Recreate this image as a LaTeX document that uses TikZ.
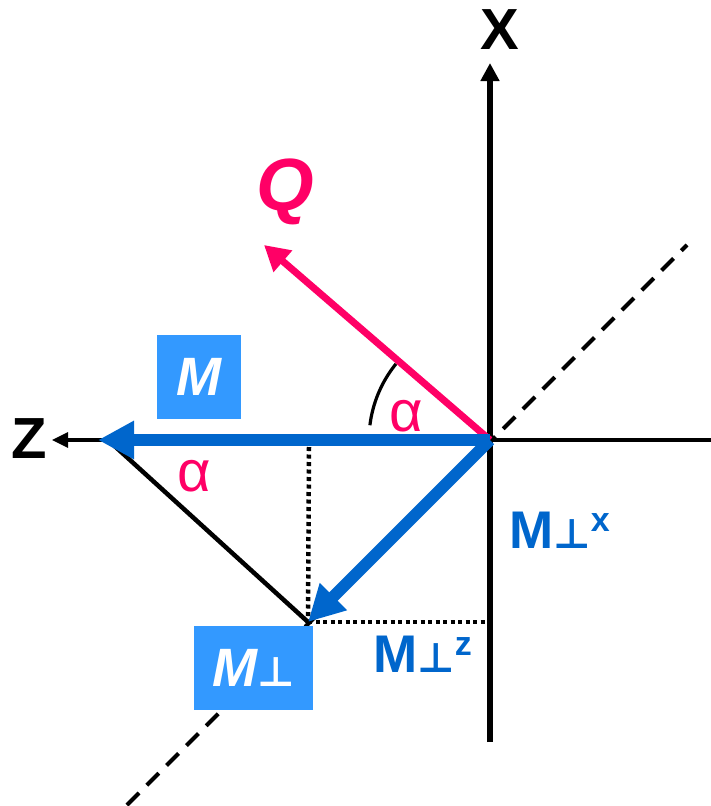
\documentclass[tikz,border=0pt]{standalone}
\usepackage{fontspec}
\setmainfont{Liberation Sans}
\newfontfamily\dv{DejaVu Sans}
\usetikzlibrary{arrows.meta}
\definecolor{qpink}{HTML}{FF0066}
\definecolor{mblue}{HTML}{0066CC}
\definecolor{boxblue}{HTML}{3399FF}
\newcommand{\perpsym}{{\dv\fontsize{41}{41}\selectfont ⊥}}
\begin{document}
\begin{tikzpicture}[x=1pt,y=-1pt,
  axisline/.style={line width=6pt},
  thinaxis/.style={line width=3.2pt},
  dashline/.style={line width=4pt, dash pattern=on 17pt off 11pt},
  dotline/.style={line width=4.5pt, dash pattern=on 4pt off 3.5pt},
  bluevec/.style={mblue, line width=12pt, -{Triangle[length=36pt,width=36pt]}},
  qvec/.style={qpink, line width=7pt, -{Triangle[length=25pt,width=27pt]}},
  mbox/.style={fill=boxblue, text=white, inner sep=0pt, minimum height=84pt},
  bluelab/.style={text=mblue, inner sep=0pt, anchor=base west, font=\fontsize{53}{53}\selectfont\bfseries},
  alab/.style={text=qpink, inner sep=0pt, font=\fontsize{58}{58}\selectfont},
  axlab/.style={inner sep=0pt, font=\fontsize{58}{58}\selectfont\bfseries}
]
\useasboundingbox (0,0) rectangle (711,806);
% points
\coordinate (O) at (490,440);
\coordinate (xtip) at (490,63);
\coordinate (xbot) at (490,742);
\coordinate (ztip) at (52,440);
\coordinate (zright) at (711,440);
\coordinate (dA) at (127,805);
\coordinate (dB) at (687,245);
\coordinate (Qtip) at (264,245);
\coordinate (Mtip) at (98,440);
\coordinate (P) at (308,622);
\coordinate (Pz) at (309,447);
\coordinate (Px) at (488,622);
\coordinate (Ls) at (108,440);
% dashed diagonal axis
\draw[dashline] (dA) -- (dB);
% axes
\draw[axisline, -{Triangle[length=18pt,width=18pt]}] (xbot) -- (xtip);
\draw[thinaxis, -{Triangle[length=16pt,width=15pt]}] (zright) -- (ztip);
% dotted projections
\draw[dotline] (Pz) -- (P);
\draw[dotline] (P) -- (Px);
% black side line
\draw[line width=4.5pt] (Ls) -- (P);
% angle arc
\draw[line width=3.2pt] (O) ++(187:121) arc[start angle=187, end angle=219, radius=121];
% vectors
\draw[qvec] (O) -- (Qtip);
\draw[bluevec] (O) -- (Mtip);
\draw[bluevec] (O) -- (P);
% boxes
\node[mbox, minimum width=84pt, font=\fontsize{54}{54}\selectfont\bfseries\itshape] (mb) at (199,377) {M};
\node[mbox, minimum width=119pt, font=\fontsize{54}{54}\selectfont\bfseries\itshape] (mpb) at (253.5,668) {M\perpsym};
% labels
\node[axlab] (xl) at (500,30) {X};
\node[axlab] (zl) at (29.5,439) {Z};
\node[inner sep=0pt, text=qpink, font=\fontsize{74}{74}\selectfont\bfseries\itshape] (ql) at (285,192) {Q};
\node[alab] (a1) at (406,416) {α};
\node[alab] (a2) at (194,476) {α};
\node[bluelab] (mx) at (509,548) {M\perpsym\raisebox{17pt}{\fontsize{34}{34}\selectfont x}};
\node[bluelab] (mz) at (373,672) {M\perpsym\raisebox{17pt}{\fontsize{34}{34}\selectfont z}};
\end{tikzpicture}
\end{document}
